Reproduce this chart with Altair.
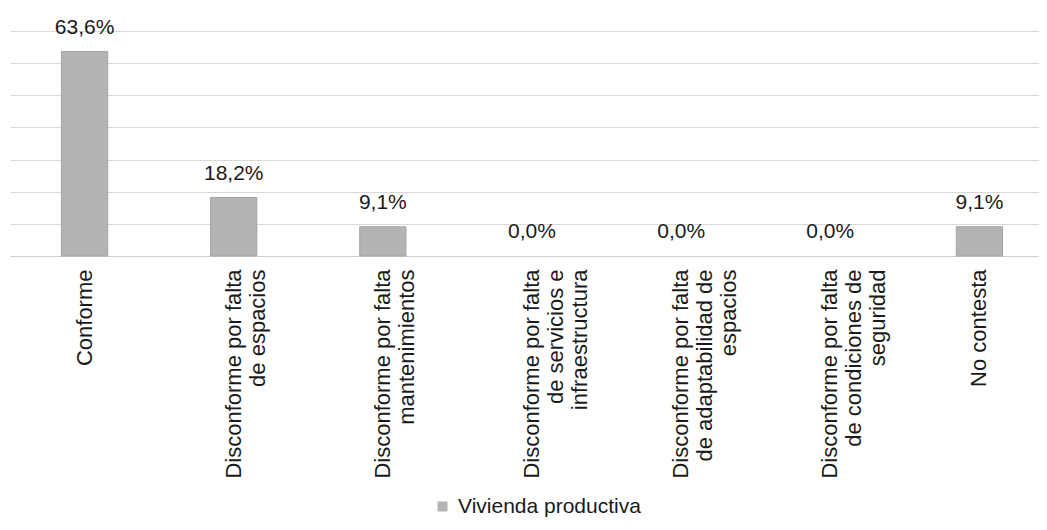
import altair as alt
import pandas as pd

categorias = [
    "Conforme",
    "Disconforme por falta|de espacios",
    "Disconforme por falta|mantenimientos",
    "Disconforme por falta|de servicios e|infraestructura",
    "Disconforme por falta|de adaptabilidad de|espacios",
    "Disconforme por falta|de condiciones de|seguridad",
    "No contesta",
]
valores = [63.6, 18.2, 9.1, 0.0, 0.0, 0.0, 9.1]
serie = ["Vivienda productiva"] * len(categorias)

df = pd.DataFrame({"cat": categorias, "valor": valores, "serie": serie})

FONT = "Liberation Sans"

base = alt.Chart(df).encode(
    x=alt.X(
        "cat:N",
        sort=None,
        title=None,
        scale=alt.Scale(paddingInner=0.69, paddingOuter=0.345, range=[0, 1044]),
        axis=alt.Axis(
            labelAngle=-90,
            labelExpr="split(datum.label, '|')",
            labelFont=FONT,
            labelFontSize=22,
            labelLineHeight=24,
            labelColor="#1a1a1a",
            labelPadding=13,
            ticks=False,
            domain=True,
            domainColor="#d0d0d0",
            labelLimit=400,
        ),
    ),
    y=alt.Y(
        "valor:Q",
        title=None,
        scale=alt.Scale(domain=[0, 70]),
        axis=alt.Axis(
            values=[0, 10, 20, 30, 40, 50, 60, 70],
            labels=False,
            ticks=False,
            domain=False,
            grid=True,
            gridColor="#d9d9d9",
            gridWidth=1,
        ),
    ),
)

bars = base.mark_bar(stroke="#a3a3a3", strokeWidth=1).encode(
    color=alt.Color(
        "serie:N",
        title=None,
        scale=alt.Scale(range=["#b4b4b4"]),
        legend=alt.Legend(
            orient="none",
            legendX=422,
            legendY=465,
            symbolType="square",
            symbolSize=100,
            symbolStrokeWidth=0,
            labelFont=FONT,
            labelFontSize=21,
            labelColor="#1a1a1a",
            labelOffset=5,
            labelLimit=500,
        ),
    ),
    strokeOpacity=alt.condition("datum.valor > 0", alt.value(1), alt.value(0)),
)

texts = base.mark_text(
    baseline="bottom", dy=-14, font=FONT, fontSize=21, color="#1a1a1a"
).transform_calculate(
    lab="replace(format(datum.valor, '.1f'), '.', ',') + '%'"
).encode(text="lab:N")

chart = (
    alt.layer(bars, texts)
    .properties(
        width=1029,
        height=225,
        autosize=alt.AutoSizeParams(type="none"),
        padding={"left": 2, "top": 23, "right": 0, "bottom": 266},
        background="white",
    )
    .configure_view(stroke=None)
)

chart.save("out.html", embed_options={"renderer": "svg", "actions": False})
